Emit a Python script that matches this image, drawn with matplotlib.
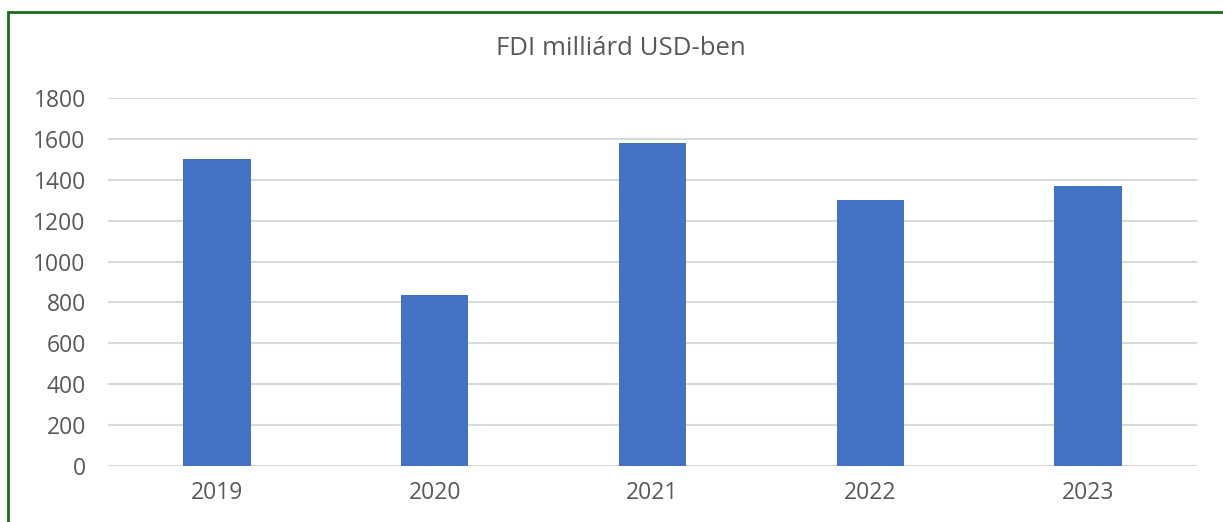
import matplotlib.pyplot as plt
from matplotlib.patches import Rectangle

years = ['2019', '2020', '2021', '2022', '2023']
fdi = [1500, 836, 1580, 1300, 1370]
yticks = [0, 200, 400, 600, 800, 1000, 1200, 1400, 1600, 1800]

plt.rcParams['font.family'] = ['Open Sans', 'DejaVu Sans']

fig = plt.figure(figsize=(12.23, 5.22), dpi=100)
ax = fig.add_axes([0.0883, 0.1073, 0.8904, 0.705])

x = range(len(years))
ax.bar(x, fdi, width=0.31, color='#4472C4', zorder=3)
ax.set_xlim(-0.5, len(years) - 0.5)
ax.set_ylim(0, 1800)
ax.set_yticks(yticks)
ax.set_xticks(list(x))
ax.set_xticklabels(years)
ax.grid(axis='y', color='#d9d9d9', linewidth=1.5, zorder=0)
for s in ax.spines.values():
    s.set_visible(False)
ax.tick_params(length=0, labelsize=16.5, labelcolor='#595959')
ax.tick_params(axis='y', pad=16)
ax.tick_params(axis='x', pad=11)

fig.text(0.508, 0.908, 'FDI milliárd USD-ben', ha='center', va='center',
         fontsize=18.5, color='#595959')

# green frame round the chart
fig.patches.append(Rectangle((8 / 1223, -0.05), 1.1, 1 - 12 / 522 + 0.05,
                             transform=fig.transFigure, fill=False,
                             edgecolor='#1a6e1a', linewidth=2))

fig.savefig('out.png', dpi=100)
